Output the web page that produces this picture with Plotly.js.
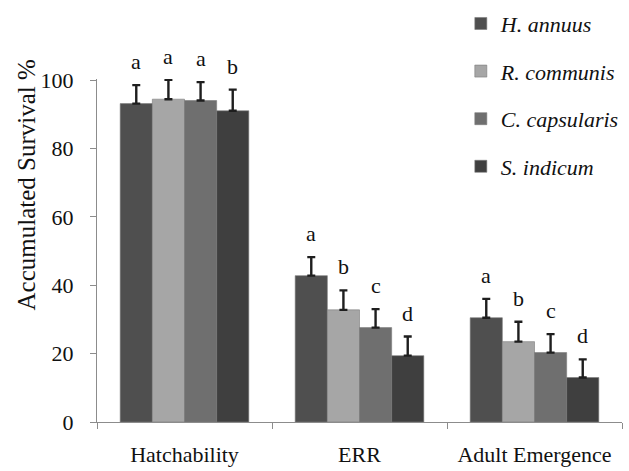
<!DOCTYPE html>
<html>
<head>
<meta charset="utf-8">
<script src="https://cdn.plot.ly/plotly-3.0.1.min.js"></script>
<style>html,body{margin:0;padding:0;background:#fff;}#chart{width:629px;height:471px;}</style>
</head>
<body>
<div id="chart"></div>
<script>
var categories = ["Hatchability", "ERR", "Adult Emergence"];
var seriesNames = ["H. annuus", "R. communis", "C. capsularis", "S. indicum"];
var hAnnuus = [93.1, 42.8, 30.5];
var rCommunis = [94.4, 32.8, 23.5];
var cCapsularis = [94.0, 27.6, 20.3];
var sIndicum = [91.0, 19.4, 13.0];
var errHAnnuus = [5.4, 5.4, 5.5];
var errRCommunis = [5.7, 5.7, 5.8];
var errCCapsularis = [5.4, 5.4, 5.4];
var errSIndicum = [6.2, 5.6, 5.3];
var lettersHAnnuus = ["a", "a", "a"];
var lettersRCommunis = ["a", "b", "b"];
var lettersCCapsularis = ["a", "c", "c"];
var lettersSIndicum = ["b", "d", "d"];
var yTicks = [0, 20, 40, 60, 80, 100];
var yTitle = "Accumulated Survival %";

var values = [hAnnuus, rCommunis, cCapsularis, sIndicum];
var errs = [errHAnnuus, errRCommunis, errCCapsularis, errSIndicum];
var letters = [lettersHAnnuus, lettersRCommunis, lettersCCapsularis, lettersSIndicum];
var colors = ["#4f4f4f", "#a6a6a6", "#6f6f6f", "#3f3f3f"];
var bargap = 0.265;
var font = "Liberation Serif";

var traces = values.map(function (v, j) {
  return {
    type: "bar",
    x: categories,
    y: v,
    name: "<i>" + seriesNames[j] + "</i>",
    legendgroup: "g" + j,
    marker: {color: colors[j], line: {color: "#7a7a7a", width: 0.6}},
    error_y: {type: "data", symmetric: false, array: errs[j], arrayminus: errs[j].map(function () { return 0; }),
      color: "#1e1e1e", thickness: 2.4, width: 4},
    cliponaxis: false,
    hoverinfo: "none"
  };
});

var annotations = [];
var w = (1 - bargap) / 4;
values.forEach(function (v, j) {
  v.forEach(function (val, i) {
    annotations.push({
      x: i + (j - 1.5) * w, y: val + errs[j][i], xref: "x", yref: "y",
      text: letters[j][i], showarrow: false, yanchor: "bottom", yshift: 9,
      font: {family: font, size: 22, color: "#111"}
    });
  });
});
annotations.push({
  x: -0.135, y: 0.69, xref: "paper", yref: "paper", text: yTitle, textangle: -90,
  showarrow: false, xanchor: "center", yanchor: "middle",
  font: {family: font, size: 25, color: "#111"}
});

var layout = {
  width: 629, height: 471,
  font: {family: font, size: 22, color: "#111"},
  margin: {l: 97, r: 7, t: 79, b: 49, autoexpand: false},
  paper_bgcolor: "#fff", plot_bgcolor: "#fff",
  barmode: "group", bargap: bargap, bargroupgap: 0,
  showlegend: true,
  legend: {x: 0.693, xanchor: "left", y: 1.2225, yanchor: "top", traceorder: "grouped", tracegroupgap: 16,
    font: {family: font, size: 22, color: "#111"}, bgcolor: "rgba(0,0,0,0)"},
  xaxis: {type: "category", showline: true, linecolor: "#8c8c8c", linewidth: 1, ticks: "outside", tickson: "boundaries",
    ticklen: 6, tickcolor: "#8c8c8c", showgrid: false, zeroline: false, ticklabelstandoff: 13, automargin: false,
    tickfont: {family: font, size: 22, color: "#111"}},
  yaxis: {range: [0, 100.3], tickvals: yTicks, showline: true, linecolor: "#8c8c8c", linewidth: 1, ticks: "outside",
    ticklen: 6, tickcolor: "#8c8c8c", showgrid: false, zeroline: false, ticklabelstandoff: 12, automargin: false,
    tickfont: {family: font, size: 22, color: "#111"}},
  annotations: annotations
};

Plotly.newPlot("chart", traces, layout, {displayModeBar: false, staticPlot: true});
</script>
</body>
</html>
